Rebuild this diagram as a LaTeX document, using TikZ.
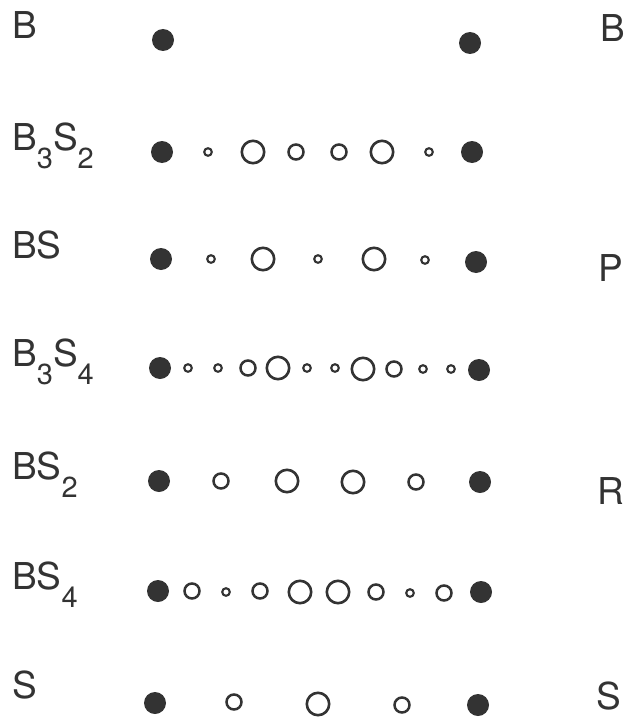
\documentclass[tikz,border=0pt]{standalone}
\usepackage{fontspec}
\setmainfont{TeX Gyre Heros}
\definecolor{ink}{HTML}{333333}
\newcommand{\sbx}[1]{\raisebox{-18pt}{\fontsize{29}{29}\selectfont #1}}
\begin{document}
\begin{tikzpicture}[x=1pt,y=-1pt,
  lab/.style={anchor=base west,inner sep=0pt,text=ink,font=\fontsize{37}{37}\selectfont},
  fdot/.style={circle,fill=ink,draw=none,minimum size=22pt,inner sep=0pt},
  lring/.style={circle,draw=ink,line width=2.6pt,minimum size=22.4pt,inner sep=0pt},
  mring/.style={circle,draw=ink,line width=2.5pt,minimum size=15pt,inner sep=0pt},
  sring/.style={circle,draw=ink,line width=2.1pt,minimum size=7.6pt,inner sep=0pt}]
\useasboundingbox (0,0) rectangle (629,717);
% left labels
\node[lab] (lB) at (12,38) {B};
\node[lab] (lB3S2) at (12,150) {B\sbx{3}S\sbx{2}};
\node[lab] (lBS) at (12,258) {BS};
\node[lab] (lB3S4) at (12,366) {B\sbx{3}S\sbx{4}};
\node[lab] (lBS2) at (12,479) {BS\sbx{2}};
\node[lab] (lBS4) at (12,589) {BS\sbx{4}};
\node[lab] (lS) at (12,698) {S};
% right labels
\node[lab] (rB) at (600,42) {B};
\node[lab] (rP) at (598,281) {P};
\node[lab] (rR) at (597,504) {R};
\node[lab] (rS) at (596,709) {S};
% rows
\foreach \s/\x/\y [count=\i] in {
  fdot/163/40, fdot/470/43,
  fdot/162/152, sring/208/152, lring/253/152, mring/296/152, mring/339/152, lring/382/152, sring/429/152, fdot/472/152,
  fdot/161/259, sring/211/259, lring/263/259, sring/318/259, lring/374/259, sring/425/260, fdot/476/262,
  fdot/160/368, sring/188/368, sring/218/368, mring/248/368, lring/278/368, sring/307/368, sring/335/368, lring/363/369, mring/394/369, sring/423/369, sring/451/369, fdot/479/370,
  fdot/159/481, mring/221/481, lring/287/481, lring/353/482, mring/416/482, fdot/480/482,
  fdot/158/591, mring/192/591, sring/226/592, mring/260/591, lring/300/592, lring/338/592, mring/376/592, sring/410/593, mring/444/593, fdot/481/592,
  fdot/155/703, mring/234/702, lring/318/704, mring/402/705, fdot/478/705}
  \node[\s] (c\i) at (\x,\y) {};
\end{tikzpicture}
\end{document}
